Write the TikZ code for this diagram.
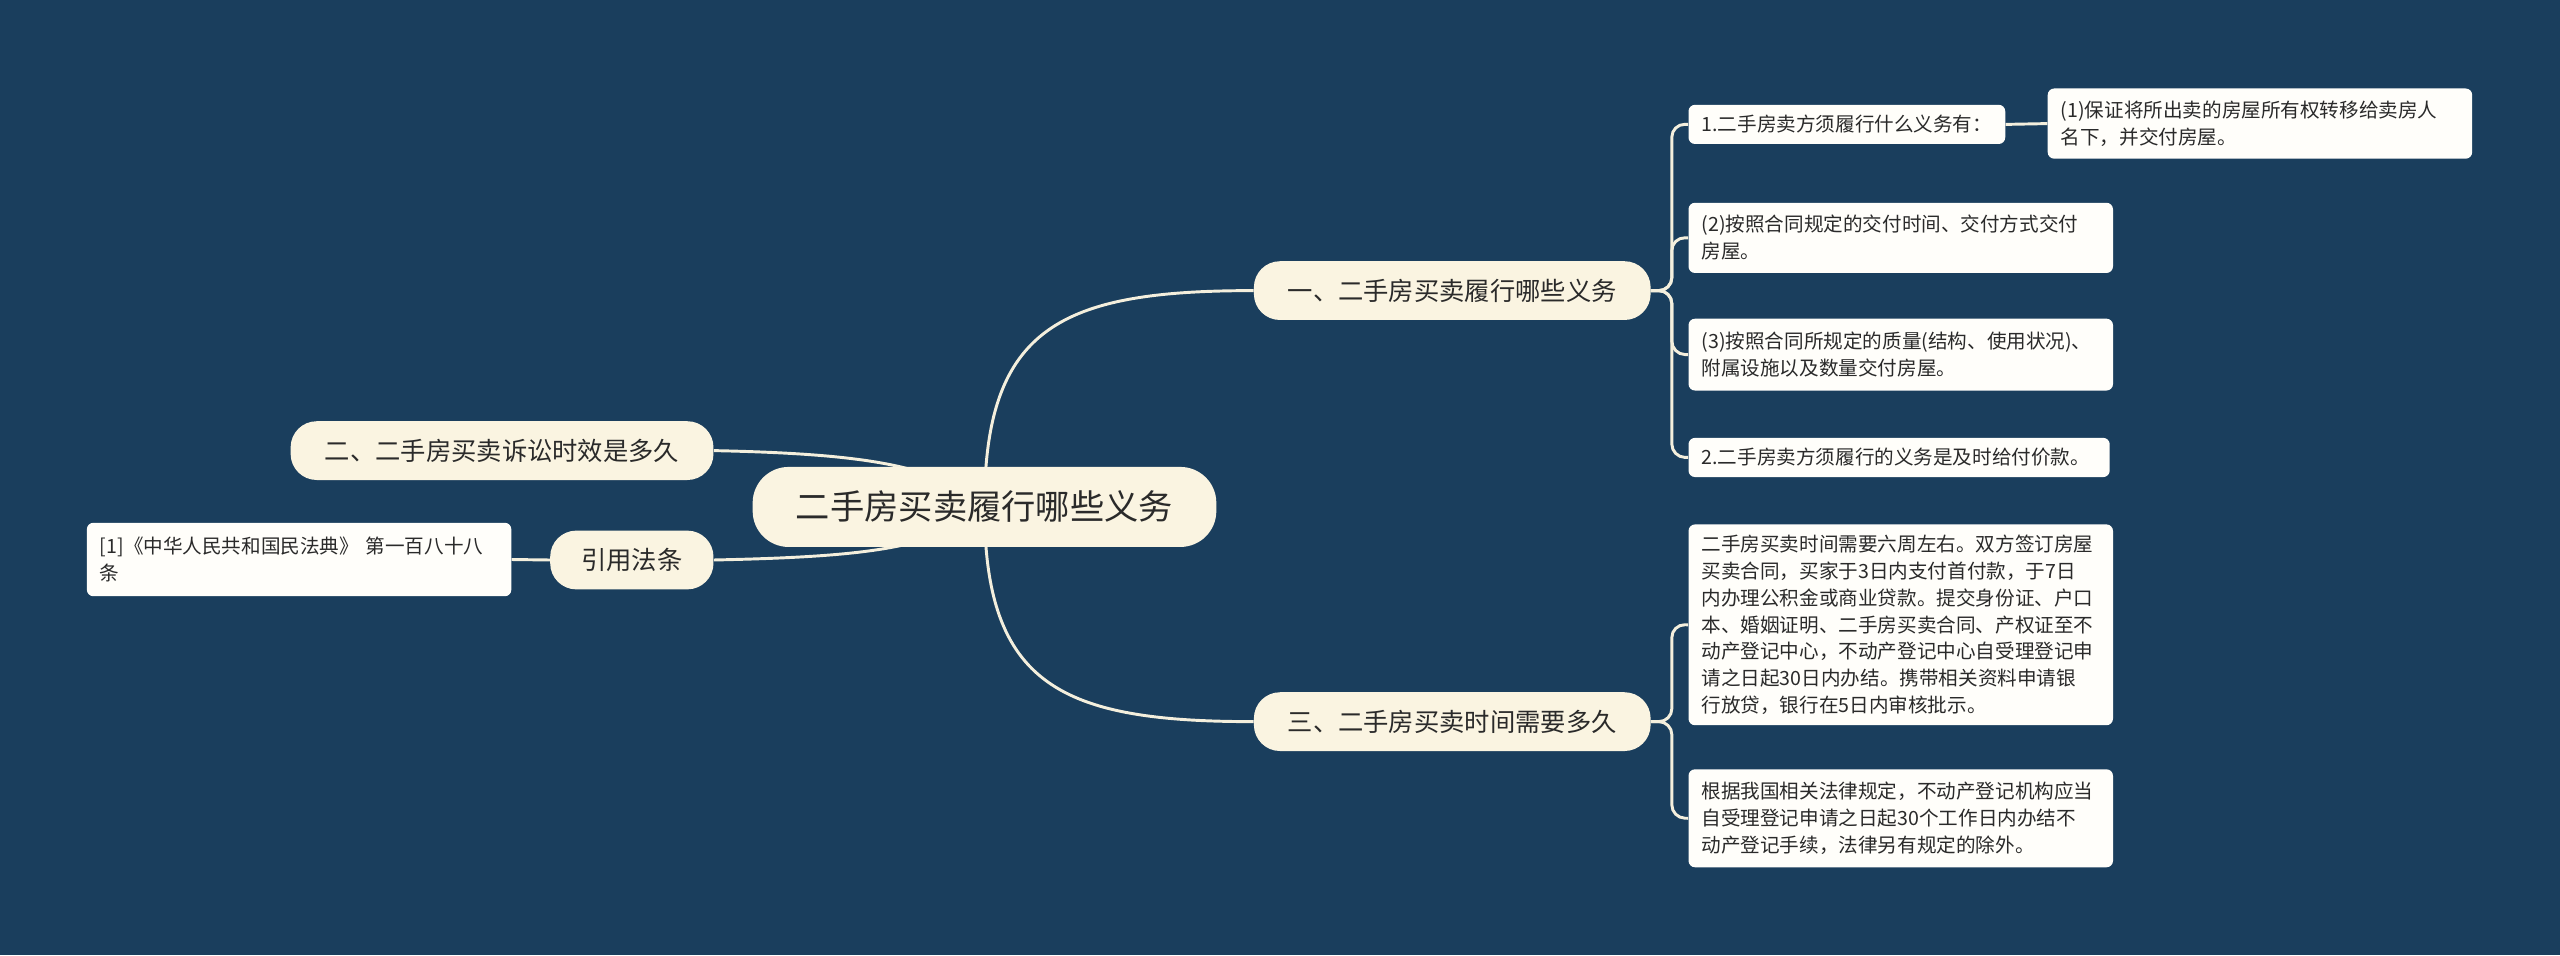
\documentclass[tikz,border=0pt]{standalone}
\usepackage{fontspec}
\setmainfont{Noto Sans CJK SC}
\definecolor{bgc}{HTML}{1A3E5D}
\definecolor{cream}{HTML}{FAF4E1}
\definecolor{leaffill}{HTML}{FFFEFA}
\definecolor{ink}{HTML}{2A2A2A}
\definecolor{linec}{HTML}{F4EFDD}
\pgfdeclarelayer{back}
\pgfsetlayers{back,main}
\begin{document}
\begin{tikzpicture}[x=1pt,y=-1pt,
 rootbox/.style={fill=cream, rounded corners=22pt, minimum width=284pt, minimum height=49pt, inner sep=0pt, text=ink, font=\fontsize{21}{25}\selectfont},
 branchbox/.style={fill=cream, rounded corners=16pt, minimum width=243pt, minimum height=36pt, inner sep=0pt, text=ink, font=\fontsize{15.5}{18}\selectfont},
 leafbox/.style={fill=leaffill, rounded corners=4pt, anchor=north west, inner xsep=8pt, inner ysep=0pt, align=left, text=ink, font=\fontsize{12}{16.5}\selectfont},
 link/.style={draw=linec, line width=1.8pt},
]
\begin{pgfonlayer}{back}
\fill[bgc] (0,0) rectangle (1568,585);
\end{pgfonlayer}
\useasboundingbox (0,0) rectangle (1568,585);

\node[rootbox] (root) at (603,310.5) {二手房买卖履行哪些义务};
\node[branchbox] (b1) at (889.5,178) {一、二手房买卖履行哪些义务};
\node[branchbox] (b3) at (889.5,442) {三、二手房买卖时间需要多久};
\node[branchbox, minimum width=259pt] (b2) at (307.5,276) {二、二手房买卖诉讼时效是多久};
\node[branchbox, minimum width=100pt] (b4) at (387,343) {引用法条};

\node[leafbox, minimum width=194pt, text width=178pt, minimum height=24pt] (L1) at (1034,64) {1.二手房卖方须履行什么义务有：};
\node[leafbox, minimum width=260pt, text width=244pt, minimum height=43pt] (L11) at (1254,54) {(1)保证将所出卖的房屋所有权转移给卖房人\\名下，并交付房屋。};
\node[leafbox, minimum width=260pt, text width=244pt, minimum height=43pt] (L12) at (1034,124) {(2)按照合同规定的交付时间、交付方式交付\\房屋。};
\node[leafbox, minimum width=260pt, text width=244pt, minimum height=44pt] (L13) at (1034,195) {(3)按照合同所规定的质量(结构、使用状况)、\\附属设施以及数量交付房屋。};
\node[leafbox, minimum width=258pt, text width=242pt, minimum height=24pt] (L2) at (1034,268) {2.二手房卖方须履行的义务是及时给付价款。};
\node[leafbox, minimum width=260pt, text width=244pt, minimum height=123pt] (L31) at (1034,321) {二手房买卖时间需要六周左右。双方签订房屋\\买卖合同，买家于3日内支付首付款，于7日\\内办理公积金或商业贷款。提交身份证、户口\\本、婚姻证明、二手房买卖合同、产权证至不\\动产登记中心，不动产登记中心自受理登记申\\请之日起30日内办结。携带相关资料申请银\\行放贷，银行在5日内审核批示。};
\node[leafbox, minimum width=260pt, text width=244pt, minimum height=60pt] (L32) at (1034,471) {根据我国相关法律规定，不动产登记机构应当\\自受理登记申请之日起30个工作日内办结不\\动产登记手续，法律另有规定的除外。};
\node[leafbox, minimum width=260pt, text width=244pt, minimum height=45pt] (L4) at (53,320) {[1]《中华人民共和国民法典》 第一百八十八\\条};

\begin{pgfonlayer}{back}
\draw[link] (root.center) .. controls (603,200) and (650,178) .. (b1.west);
\draw[link] (root.center) .. controls (603,420) and (650,442) .. (b3.west);
\draw[link] (b2.east) .. controls (530,278) and (575,285) .. (root.center);
\draw[link] (b4.east) .. controls (530,341) and (575,336) .. (root.center);
\draw[link, rounded corners=8pt] (b1.east) -- (1024,178) -- (1024,76) -- (L1.west);
\draw[link, rounded corners=8pt] (b1.east) -- (1024,178) -- (1024,145.5) -- (L12.west);
\draw[link, rounded corners=8pt] (b1.east) -- (1024,178) -- (1024,217) -- (L13.west);
\draw[link, rounded corners=8pt] (b1.east) -- (1024,178) -- (1024,280) -- (L2.west);
\draw[link] (L1.east) -- (L11.west);
\draw[link, rounded corners=8pt] (b3.east) -- (1024,442) -- (1024,382.5) -- (L31.west);
\draw[link, rounded corners=8pt] (b3.east) -- (1024,442) -- (1024,501) -- (L32.west);
\draw[link] (b4.west) -- (L4.east);
\end{pgfonlayer}
\end{tikzpicture}
\end{document}
